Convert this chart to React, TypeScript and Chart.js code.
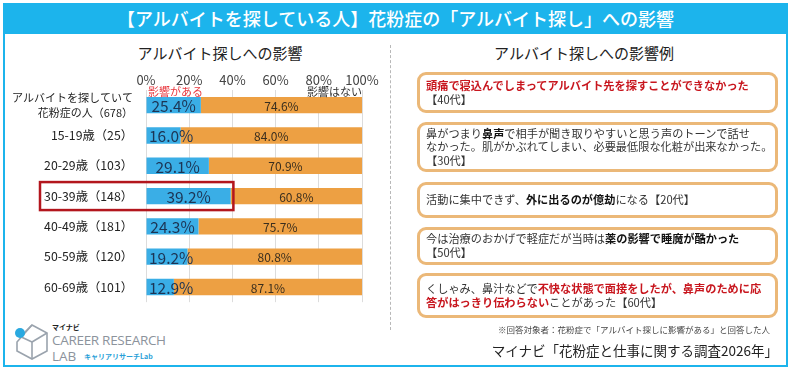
import React, { useEffect, useRef } from "react";
import { Chart, registerables } from "chart.js";

Chart.register(...registerables);

const FONT = "'Noto Sans CJK JP', 'Noto Sans', sans-serif";

const categories: (string | string[])[] = [
  ["アルバイトを探していて", "花粉症の人（678）"],
  "15-19歳（25）",
  "20-29歳（103）",
  "30-39歳（148）",
  "40-49歳（181）",
  "50-59歳（120）",
  "60-69歳（101）",
];
const affected = [25.4, 16.0, 29.1, 39.2, 24.3, 19.2, 12.9];
const notAffected = [74.6, 84.0, 70.9, 60.8, 75.7, 80.8, 87.1];
const seriesNames = ["影響がある", "影響はない"];
const xTickValues = [0, 20, 40, 60, 80, 100];
const highlightIndex = 3;

const BLUE = "#3aaee6";
const ORANGE = "#eda043";
const HEADER = "#1cb4ec";
const YFONT_FIRST = 11;
const YFONT = 12.3;
const YPAD = 5;

const labelPlugin = {
  id: "barLabels",
  afterDatasetsDraw(chart: any) {
    const ctx = chart.ctx;
    const left = chart.scales.x.getPixelForValue(0);
    chart.data.datasets.forEach((ds: any, di: number) => {
      const meta = chart.getDatasetMeta(di);
      meta.data.forEach((bar: any, i: number) => {
        const v = ds.data[i] as number;
        const text = v.toFixed(1) + "%";
        const p = bar.getProps(["x", "base", "y"], true);
        ctx.save();
        ctx.textBaseline = "middle";
        ctx.textAlign = "center";
        if (di === 0) {
          ctx.font = `15.5px ${FONT}`;
          ctx.fillStyle = "#1c3454";
          const w = ctx.measureText(text).width;
          let cx = (p.x + p.base) / 2;
          cx = Math.max(cx, left + 3 + w / 2);
          ctx.fillText(text, cx, p.y + 1);
        } else {
          ctx.font = `12px ${FONT}`;
          ctx.fillStyle = "#3a2e1e";
          ctx.fillText(text, (p.x + p.base) / 2, p.y + 1);
        }
        ctx.restore();
      });
    });
  },
};

const highlightPlugin = {
  id: "highlightRow",
  afterDraw(chart: any) {
    const ctx = chart.ctx;
    const y = chart.scales.y.getPixelForValue(highlightIndex);
    const x0 = chart.chartArea.left - 106;
    const x1 = chart.scales.x.getPixelForValue(40) + 1;
    ctx.save();
    ctx.strokeStyle = "#b3161d";
    ctx.lineWidth = 2.5;
    ctx.strokeRect(x0, y - 14, x1 - x0, 28);
    ctx.restore();
  },
};

function BarChart() {
  const ref = useRef<HTMLCanvasElement | null>(null);
  useEffect(() => {
    if (!ref.current) return;
    const chart = new Chart(ref.current, {
      type: "bar",
      data: {
        labels: categories as any,
        datasets: [
          {
            label: seriesNames[0],
            data: affected,
            backgroundColor: BLUE,
            barPercentage: 0.54,
            categoryPercentage: 1,
          },
          {
            label: seriesNames[1],
            data: notAffected,
            backgroundColor: ORANGE,
            barPercentage: 0.54,
            categoryPercentage: 1,
          },
        ],
      },
      options: {
        indexAxis: "y",
        animation: false,
        responsive: false,
        maintainAspectRatio: false,
        layout: { padding: { right: 28, left: 0, top: 0, bottom: 0 } },
        plugins: { legend: { display: false }, tooltip: { enabled: false } },
        scales: {
          x: {
            type: "linear",
            position: "top",
            stacked: true,
            min: 0,
            max: 100,
            afterBuildTicks: (scale: any) => {
              scale.ticks = xTickValues.map((v) => ({ value: v }));
            },
            afterFit: (scale: any) => {
              scale.height = 28;
            },
            ticks: {
              callback: (v: any) => v + "%",
              font: { size: 13, family: FONT },
              color: "#444",
              padding: 2,
              maxRotation: 0,
              autoSkip: false,
            },
            grid: { color: "#dcdcdc", drawTicks: false },
            border: { display: false },
          },
          y: {
            type: "category",
            stacked: true,
            afterFit: (scale: any) => {
              scale.width = 146;
            },
            ticks: {
              font: (c: any) => ({
                size: c.index === 0 ? YFONT_FIRST : YFONT,
                family: FONT,
                lineHeight: 1.35,
              }),
              color: "#222",
              padding: YPAD,
              autoSkip: false,
            },
            grid: { display: false },
            border: { display: false },
          },
        },
      } as any,
      plugins: [labelPlugin, highlightPlugin],
    });
    return () => chart.destroy();
  }, []);
  return (
    <canvas
      ref={ref}
      width={390}
      height={260}
      style={{ position: "absolute", left: 0, top: 62, width: 390, height: 260 }}
    />
  );
}

const boxStyle = (top: number, height: number): React.CSSProperties => ({
  position: "absolute",
  left: 417,
  top,
  width: 361,
  height,
  boxSizing: "border-box",
  border: "3px solid #ebb878",
  borderRadius: 9,
  padding: "0 6px 0 6px",
  display: "flex",
  flexDirection: "column",
  justifyContent: "center",
  fontSize: 11.2,
  lineHeight: "13.6px",
  color: "#333",
  whiteSpace: "nowrap",
});

const red: React.CSSProperties = { color: "#c8161e", fontWeight: 700 };
const bold: React.CSSProperties = { color: "#111", fontWeight: 700 };

const logoText: React.CSSProperties = {
  position: "absolute",
  left: 40,
  fontSize: 13.5,
  color: "#8c939c",
  fontFamily: "'Open Sans', 'Noto Sans', sans-serif",
  lineHeight: "16px",
  whiteSpace: "nowrap",
};

function Logo() {
  return (
    <div style={{ position: "absolute", left: 12, top: 322, width: 170, height: 44 }}>
      <svg width="40" height="42" viewBox="0 0 40 42" style={{ position: "absolute", left: 0, top: 0 }}>
        <g fill="none" stroke="#9aa3ad" strokeWidth="1.6">
          <polygon points="20,3 35,11 35,29 20,37 5,29 5,20" />
          <polyline points="20,20 35,11" />
          <polyline points="20,20 20,37" />
          <polyline points="20,20 5,13" />
          <polyline points="13,10 20,3" />
        </g>
        <circle cx="8" cy="11" r="5" fill="#29a9e0" />
      </svg>
      <div style={{ position: "absolute", left: 40, top: 1, fontSize: 7, fontWeight: 700, color: "#222", lineHeight: "9px", whiteSpace: "nowrap" }}>
        マイナビ
      </div>
      <div style={{ ...logoText, top: 10, letterSpacing: -0.3 }}>CAREER RESEARCH</div>
      <div style={{ ...logoText, top: 26 }}>LAB</div>
      <div style={{ position: "absolute", left: 72, top: 30, fontSize: 7, fontWeight: 700, color: "#2a9fd8", lineHeight: "9px", whiteSpace: "nowrap" }}>
        キャリアリサーチLab
      </div>
    </div>
  );
}

export default function App() {
  return (
    <div
      style={{
        position: "fixed",
        left: 0,
        top: 0,
        width: 792,
        height: 372,
        background: "#fff",
        fontFamily: FONT,
        overflow: "hidden",
      }}
    >
      <div
        style={{
          position: "absolute",
          left: 3,
          top: 3,
          width: 785,
          height: 364,
          boxSizing: "border-box",
          border: `2px solid ${HEADER}`,
        }}
      />
      <div
        style={{
          position: "absolute",
          left: 3,
          top: 3,
          width: 785,
          height: 31,
          background: HEADER,
          color: "#fff",
          fontSize: 18,
          fontWeight: 500,
          textAlign: "center",
          lineHeight: "31px",
          whiteSpace: "nowrap",
        }}
      >
        【アルバイトを探している人】花粉症の「アルバイト探し」への影響
      </div>

      <div style={{ position: "absolute", left: 120, top: 43, width: 200, textAlign: "center", fontSize: 15, color: "#222", lineHeight: "20px" }}>
        アルバイト探しへの影響
      </div>
      <div style={{ position: "absolute", left: 484, top: 43, width: 200, textAlign: "center", fontSize: 15, color: "#222", lineHeight: "20px" }}>
        アルバイト探しへの影響例
      </div>

      <div style={{ position: "absolute", left: 390, top: 45, height: 285, borderLeft: "1px dashed #b8b8b8" }} />

      <BarChart />

      <div style={{ position: "absolute", left: 148, top: 85, fontSize: 11, color: "#e8383f", lineHeight: "13px", whiteSpace: "nowrap" }}>
        {seriesNames[0]}
      </div>
      <div style={{ position: "absolute", left: 307, top: 85, fontSize: 11, color: "#333", lineHeight: "13px", whiteSpace: "nowrap" }}>
        {seriesNames[1]}
      </div>

      <div style={boxStyle(72, 41)}>
        <div style={red}>頭痛で寝込んでしまってアルバイト先を探すことができなかった</div>
        <div>【40代】</div>
      </div>
      <div style={boxStyle(122, 50)}>
        <div>
          鼻がつまり<span style={bold}>鼻声</span>で相手が聞き取りやすいと思う声のトーンで話せ
        </div>
        <div>なかった。肌がかぶれてしまい、必要最低限な化粧が出来なかった。</div>
        <div>【30代】</div>
      </div>
      <div style={boxStyle(182, 36)}>
        <div>
          活動に集中できず、<span style={bold}>外に出るのが億劫</span>になる【20代】
        </div>
      </div>
      <div style={boxStyle(227, 38)}>
        <div>
          今は治療のおかげで軽症だが当時は<span style={bold}>薬の影響で睡魔が酷かった</span>
        </div>
        <div>【50代】</div>
      </div>
      <div style={boxStyle(273, 45)}>
        <div>
          くしゃみ、鼻汁などで<span style={red}>不快な状態で面接をしたが、鼻声のために応</span>
        </div>
        <div>
          <span style={red}>答がはっきり伝わらない</span>ことがあった【60代】
        </div>
      </div>

      <div style={{ position: "absolute", right: 22, top: 323, fontSize: 8.5, color: "#444", lineHeight: "12px", whiteSpace: "nowrap" }}>
        ※回答対象者：花粉症で「アルバイト探しに影響がある」と回答した人
      </div>
      <div style={{ position: "absolute", right: 14, top: 341, fontSize: 13.5, color: "#222", lineHeight: "18px", whiteSpace: "nowrap" }}>
        マイナビ「花粉症と仕事に関する調査2026年」
      </div>

      <Logo />
    </div>
  );
}
